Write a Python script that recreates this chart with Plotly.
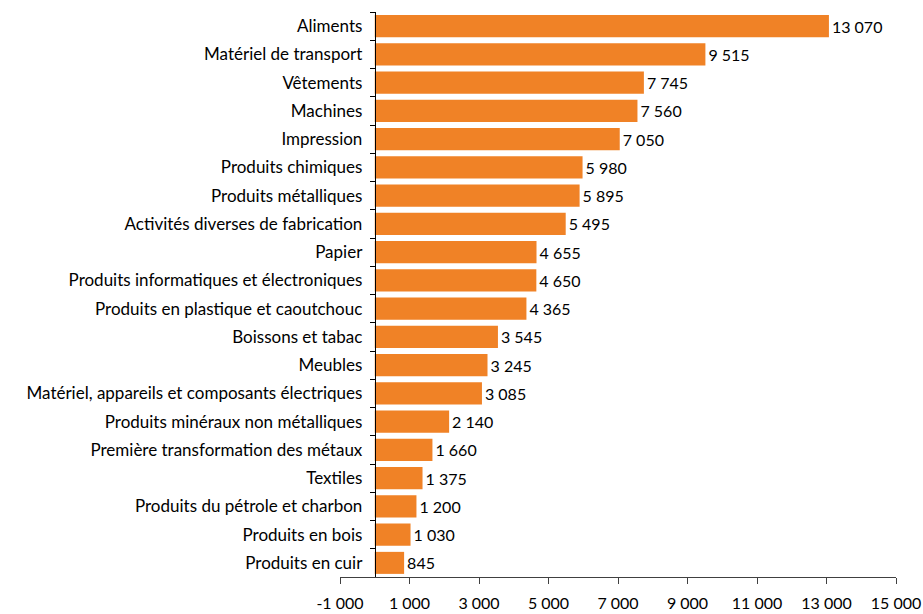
import plotly.graph_objects as go

categories = ["Aliments", "Matériel de transport", "Vêtements", "Machines", "Impression",
              "Produits chimiques", "Produits métalliques", "Activités diverses de fabrication",
              "Papier", "Produits informatiques et électroniques",
              "Produits en plastique et caoutchouc", "Boissons et tabac", "Meubles",
              "Matériel, appareils et composants électriques",
              "Produits minéraux non métalliques", "Première transformation des métaux",
              "Textiles", "Produits du pétrole et charbon", "Produits en bois", "Produits en cuir"]
values = [13070, 9515, 7745, 7560, 7050, 5980, 5895, 5495, 4655, 4650, 4365, 3545, 3245,
          3085, 2140, 1660, 1375, 1200, 1030, 845]
tick_values = [-1000, 1000, 3000, 5000, 7000, 9000, 11000, 13000, 15000]


def fmt(v):
    return f"{v:,}".replace(",", " ")


FONT = "Lato"
x_min, x_max = -1000, 15000

fig = go.Figure(go.Bar(
    x=values, y=categories, orientation="h",
    marker=dict(color="#F08226", line=dict(width=0)),
    text=[fmt(v) for v in values], textposition="outside",
    textfont=dict(family=FONT, size=16, color="#000000"),
    cliponaxis=False, width=0.78,
))

fig.update_layout(
    width=923, height=614,
    margin=dict(l=340, r=27, t=12, b=37),
    plot_bgcolor="white", paper_bgcolor="white",
    showlegend=False,
    font=dict(family=FONT, size=16, color="#000000"),
    xaxis=dict(range=[x_min, x_max], tickvals=tick_values,
               ticktext=[fmt(v) for v in tick_values],
               tickfont=dict(family=FONT, size=16, color="#000000"),
               showgrid=False, zeroline=False, showline=True, linecolor="#404040",
               linewidth=1, ticks="outside", ticklen=6, tickcolor="#404040",
               ticklabelstandoff=6, automargin=False),
    yaxis=dict(autorange="reversed", anchor="free",
               position=(0 - x_min) / (x_max - x_min),
               tickfont=dict(family=FONT, size=17, color="#000000"),
               showgrid=False, zeroline=False, showline=True, linecolor="#000000",
               linewidth=1, ticks="outside", ticklen=5, tickcolor="#000000",
               tickson="boundaries", ticklabelstandoff=9, automargin=False),
)

fig.write_html("out.html", config={"displayModeBar": False},
               post_script="document.body.style.margin='0';document.body.style.padding='0';")
